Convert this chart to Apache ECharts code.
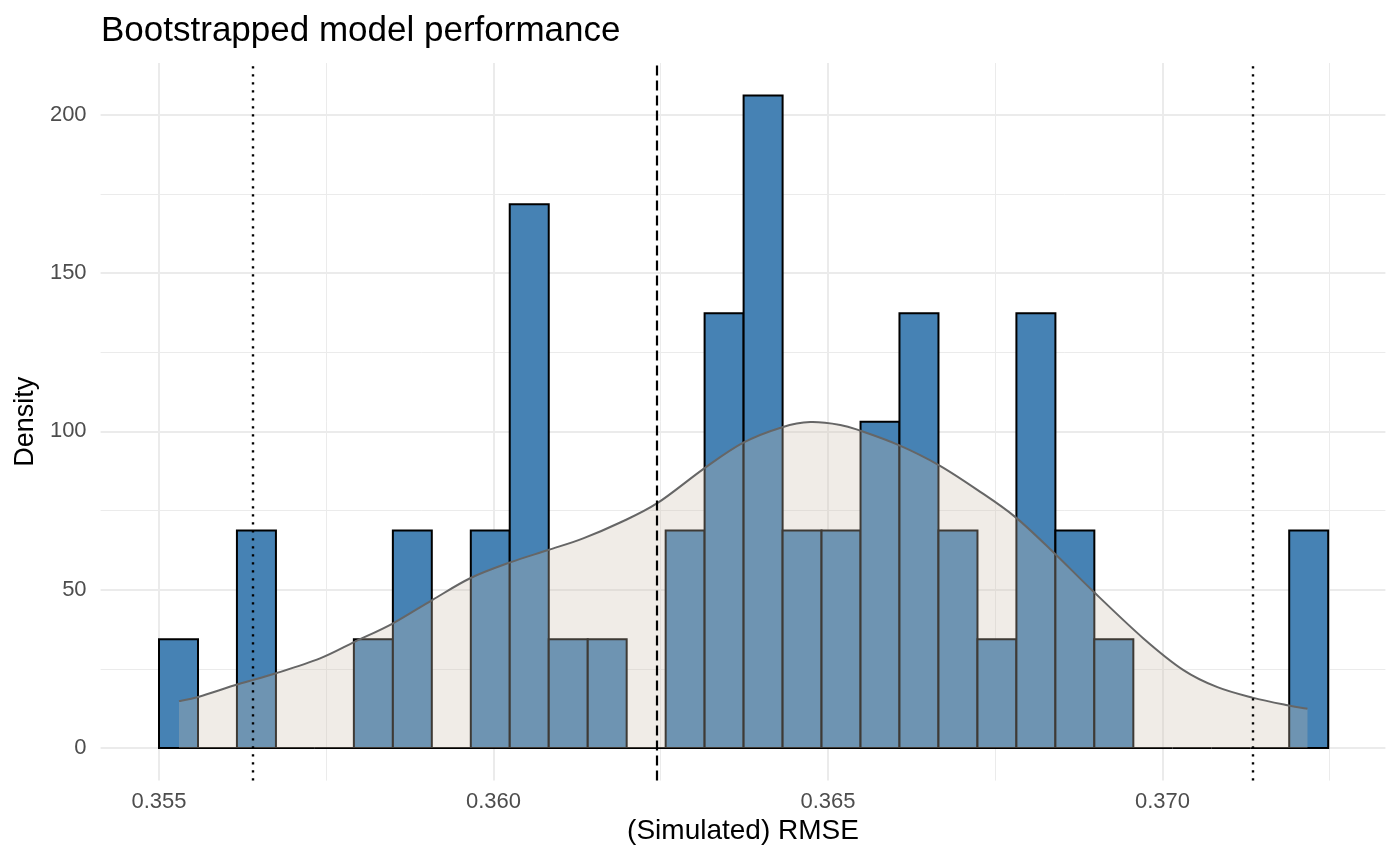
<!DOCTYPE html>
<html>
<head>
<meta charset="utf-8">
<script src="https://cdn.jsdelivr.net/npm/echarts@6/dist/echarts.min.js"></script>
<style>
  html, body { margin: 0; padding: 0; background: #ffffff; }
  #chart { width: 1400px; height: 865px; }
</style>
</head>
<body>
<div id="chart"></div>
<script>
// ---- Data ----
const binEdges = [
  0.355000, 0.355583, 0.356165, 0.356748, 0.357330, 0.357913, 0.358496, 0.359078,
  0.359661, 0.360243, 0.360826, 0.361409, 0.361991, 0.362574, 0.363156, 0.363739,
  0.364322, 0.364904, 0.365487, 0.366069, 0.366652, 0.367235, 0.367817, 0.368400,
  0.368982, 0.369565, 0.370148, 0.370730, 0.371313, 0.371895, 0.372478
];
const binDensity = [
  34.3, 0, 68.7, 0, 0, 34.3, 68.7, 0, 68.7, 171.7,
  34.3, 34.3, 0, 68.7, 137.3, 206.0, 68.7, 68.7, 103.0, 137.3,
  68.7, 34.3, 137.3, 68.7, 34.3, 0, 0, 0, 0, 68.7
];
const densityX = [
  0.355299, 0.355598, 0.356181, 0.356750, 0.357408, 0.357931, 0.358485, 0.359083,
  0.359651, 0.360249, 0.360818, 0.361341, 0.361894, 0.362448, 0.363151, 0.363734,
  0.364317, 0.364736, 0.365184, 0.365483, 0.366051, 0.366650, 0.367233, 0.367802,
  0.368385, 0.368968, 0.369716, 0.370314, 0.370822, 0.371346, 0.371869, 0.372168
];
const densityY = [
  14.8, 16.2, 20.1, 23.6, 28.3, 33.6, 39.2, 46.7,
  53.6, 58.6, 62.5, 66.2, 71.2, 77.3, 88.3, 96.4,
  101.3, 102.9, 102.0, 100.2, 95.7, 89.4, 81.5, 72.9,
  61.5, 49.4, 34.6, 24.6, 19.2, 15.9, 13.5, 12.4
];
const vlineDotted = [0.356396, 0.371351];
const vlineDashed = [0.362443];
const xMajorTicks = [0.355, 0.360, 0.365, 0.370];
const xMinorTicks = [0.3575, 0.3625, 0.3675, 0.3725];
const yMajorTicks = [0, 50, 100, 150, 200];
const yMinorTicks = [25, 75, 125, 175];

const titleText = 'Bootstrapped model performance';
const xTitle = '(Simulated) RMSE';
const yTitle = 'Density';

// ---- Build chart ----
const FONT = 'Liberation Sans, Arial, Helvetica, sans-serif';
const chart = echarts.init(document.getElementById('chart'), null, { renderer: 'canvas' });

const histData = binDensity.map((d, i) => [binEdges[i], binEdges[i + 1], d]);
const densData = densityX.map((x, i) => [x, densityY[i]]);

const gridLines = []
  .concat(xMajorTicks.map(v => ({ xAxis: v, lineStyle: { width: 2, color: '#EBEBEB', type: 'solid' } })))
  .concat(xMinorTicks.map(v => ({ xAxis: v, lineStyle: { width: 1, color: '#EBEBEB', type: 'solid' } })))
  .concat(yMajorTicks.map(v => ({ yAxis: v, lineStyle: { width: 2, color: '#EBEBEB', type: 'solid' } })))
  .concat(yMinorTicks.map(v => ({ yAxis: v, lineStyle: { width: 1, color: '#EBEBEB', type: 'solid' } })));

const refLines = []
  .concat(vlineDotted.map(v => ({ xAxis: v, lineStyle: { type: [2.4, 5.6], width: 2.4, color: '#000' } })))
  .concat(vlineDashed.map(v => ({ xAxis: v, lineStyle: { type: [10, 5], width: 2.2, color: '#000' } })));

// Smooth (Catmull-Rom) curve through the read density points, in pixel space
function densityPaths(api) {
  const pts = densData.map(d => api.coord(d));
  const n = pts.length;
  let d = 'M' + pts[0][0] + ' ' + pts[0][1];
  for (let i = 0; i < n - 1; i++) {
    const p0 = pts[Math.max(i - 1, 0)];
    const p1 = pts[i];
    const p2 = pts[i + 1];
    const p3 = pts[Math.min(i + 2, n - 1)];
    const c1x = p1[0] + (p2[0] - p0[0]) / 6, c1y = p1[1] + (p2[1] - p0[1]) / 6;
    const c2x = p2[0] - (p3[0] - p1[0]) / 6, c2y = p2[1] - (p3[1] - p1[1]) / 6;
    d += ' C' + c1x + ' ' + c1y + ' ' + c2x + ' ' + c2y + ' ' + p2[0] + ' ' + p2[1];
  }
  const base0 = api.coord([densData[0][0], 0]);
  const base1 = api.coord([densData[n - 1][0], 0]);
  const area = d + ' L' + base1[0] + ' ' + base1[1] + ' L' + base0[0] + ' ' + base0[1] + ' Z';
  return { line: d, area: area };
}

const option = {
  animation: false,
  backgroundColor: '#ffffff',
  textStyle: { fontFamily: FONT },
  title: {
    text: titleText,
    left: 101,
    top: 14,
    padding: 0,
    textStyle: { fontFamily: FONT, fontSize: 35, fontWeight: 'normal', color: '#000000' }
  },
  grid: { left: 100.6, right: 14.6, top: 63, bottom: 84.4, containLabel: false },
  xAxis: {
    type: 'value',
    min: 0.354127,
    max: 0.373333,
    name: xTitle,
    nameLocation: 'middle',
    nameGap: 34,
    nameTextStyle: { fontFamily: FONT, fontSize: 28, color: '#000000' },
    axisLine: { show: false, onZero: false },
    axisTick: { show: false },
    splitLine: { show: false },
    axisLabel: {
      customValues: xMajorTicks,
      formatter: v => v.toFixed(3),
      fontFamily: FONT,
      fontSize: 22,
      color: '#4D4D4D',
      margin: 10
    }
  },
  yAxis: {
    type: 'value',
    min: -10.3,
    max: 216.3,
    name: yTitle,
    nameLocation: 'middle',
    nameGap: 60,
    nameTextStyle: { fontFamily: FONT, fontSize: 27, color: '#000000' },
    axisLine: { show: false, onZero: false },
    axisTick: { show: false },
    splitLine: { show: false },
    axisLabel: {
      customValues: yMajorTicks,
      fontFamily: FONT,
      fontSize: 22,
      color: '#4D4D4D',
      margin: 14
    }
  },
  series: [
    {
      name: 'grid',
      type: 'line',
      data: [],
      silent: true,
      z: 0,
      markLine: {
        z: 0,
        silent: true,
        precision: 8,
        symbol: ['none', 'none'],
        label: { show: false },
        lineStyle: { type: 'solid' },
        emphasis: { disabled: true },
        data: gridLines
      }
    },
    {
      name: 'histogram',
      type: 'custom',
      z: 2,
      data: histData,
      renderItem: function (params, api) {
        const p0 = api.coord([api.value(0), api.value(2)]);
        const p1 = api.coord([api.value(1), 0]);
        return {
          type: 'rect',
          shape: { x: p0[0], y: p0[1], width: p1[0] - p0[0], height: p1[1] - p0[1] },
          style: { fill: '#4682B4', stroke: '#000000', lineWidth: 2 }
        };
      }
    },
    {
      name: 'density',
      type: 'custom',
      z: 3,
      data: densData,
      renderItem: function (params, api) {
        if (params.dataIndex !== 0) return null;
        const p = densityPaths(api);
        return {
          type: 'group',
          children: [
            { type: 'path', shape: { pathData: p.area }, style: { fill: 'rgba(205,192,176,0.3)', stroke: null } },
            { type: 'path', shape: { pathData: p.line }, style: { fill: null, stroke: '#666666', lineWidth: 2 } }
          ]
        };
      }
    },
    {
      name: 'ref',
      type: 'line',
      data: [],
      silent: true,
      z: 10,
      markLine: {
        z: 10,
        silent: true,
        precision: 8,
        symbol: ['none', 'none'],
        label: { show: false },
        emphasis: { disabled: true },
        data: refLines
      }
    }
  ]
};
chart.setOption(option);
</script>
</body>
</html>
